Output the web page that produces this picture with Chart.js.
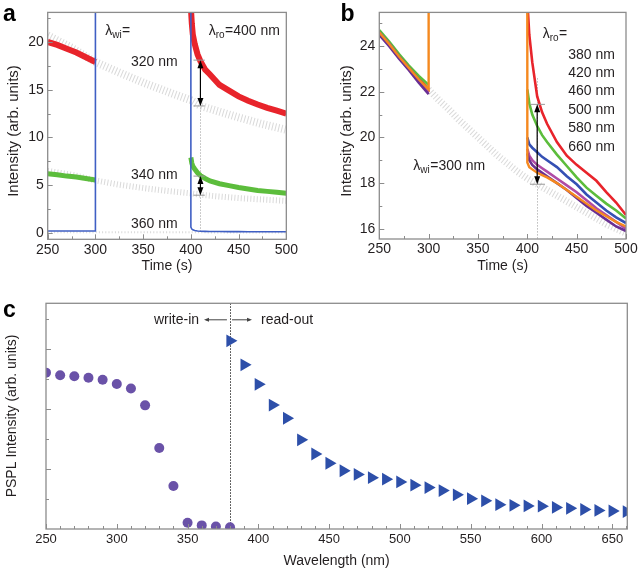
<!DOCTYPE html>
<html><head><meta charset="utf-8">
<script src="https://cdn.jsdelivr.net/npm/chart.js@4.4.1/dist/chart.umd.min.js"></script>
<style>
html,body{margin:0;padding:0;background:#fff;width:640px;height:573px;overflow:hidden}
canvas{position:absolute;display:block}
</style></head><body>
<canvas id="ca" width="300" height="280" style="left:0;top:0"></canvas>
<canvas id="cb" width="320" height="280" style="left:320px;top:0"></canvas>
<canvas id="cc" width="640" height="283" style="left:0;top:290px"></canvas>
<script>
// ---------- Panel a data (λro = 400 nm) ----------
const aPreT  = [250, 260, 270, 280, 290, 300];
const aRedPre   = [20.0, 19.7, 19.3, 18.9, 18.4, 17.9];
const aGreenPre = [6.2, 6.1, 5.95, 5.85, 5.7, 5.55];
const aBluePre  = [0.2, 0.2, 0.2, 0.2, 0.2, 0.2];
const aPostT = [400, 401, 402, 404, 407, 410, 415, 420, 430, 440, 450, 460, 470, 480, 490, 500];
const aRedPost   = [23.6, 21.9, 20.8, 19.8, 18.7, 18.0, 17.1, 16.6, 15.5, 14.9, 14.3, 13.85, 13.45, 13.1, 12.8, 12.5];
const aGreenPost = [7.9, 7.3, 7.0, 6.7, 6.3, 6.0, 5.7, 5.45, 5.15, 4.95, 4.75, 4.6, 4.45, 4.35, 4.25, 4.15];
const aBluePost  = [0.6, 0.4, 0.32, 0.25, 0.2, 0.18, 0.16, 0.15, 0.14, 0.13, 0.13, 0.12, 0.12, 0.12, 0.12, 0.12];
const aRefT = [250, 275, 300, 325, 350, 375, 400, 410, 425, 450, 475, 500];
const aGray320 = [20.7, 19.4, 17.9, 16.8, 15.75, 14.8, 13.9, 13.3, 12.85, 12.1, 11.4, 10.8];
const aGray340 = [6.5, 6.1, 5.5, 5.05, 4.7, 4.4, 4.15, 4.0, 3.85, 3.65, 3.5, 3.35];
const aGray360 = [0.08, 0.08, 0.07, 0.07, 0.06, 0.06, 0.06, 0.06, 0.05, 0.05, 0.05, 0.05];
const aOffScale = 60;   // excitation light, far above the axis
const aWriteLabels = ['320 nm', '340 nm', '360 nm'];

// ---------- Panel b data (λwi = 300 nm) ----------
const bPreT = [250, 260, 270, 280, 290, 300];
const bPostT = [400, 402, 405, 410, 415, 420, 430, 440, 450, 460, 470, 480, 490, 500];
const bRed380Pre    = [24.65, 24.15, 23.6, 23.1, 22.6, 22.1];
const bGreen420Pre  = [24.7, 24.2, 23.65, 23.15, 22.7, 22.3];
const bBlue460Pre   = [24.6, 24.1, 23.55, 23.05, 22.55, 22.0];
const bMag500Pre    = [24.6, 24.1, 23.5, 23.0, 22.5, 22.0];
const bPurp580Pre   = [24.5, 24.0, 23.45, 22.95, 22.4, 21.9];
const bOrange660Pre = [24.6, 24.1, 23.55, 23.05, 22.55, 22.1];
const bRed380Post    = [26.0, 24.5, 23.3, 21.8, 21.1, 20.6, 19.8, 19.2, 18.8, 18.45, 18.1, 17.6, 17.15, 16.6];
const bGreen420Post  = [22.1, 21.5, 21.0, 20.5, 20.1, 19.8, 19.25, 18.75, 18.25, 17.8, 17.45, 17.1, 16.8, 16.45];
const bBlue460Post   = [20.0, 19.7, 19.55, 19.35, 19.15, 19.0, 18.7, 18.3, 17.95, 17.5, 17.15, 16.8, 16.5, 16.25];
const bMag500Post    = [19.5, 19.2, 19.0, 18.8, 18.65, 18.5, 18.2, 17.9, 17.6, 17.25, 16.9, 16.6, 16.3, 16.0];
const bPurp580Post   = [19.3, 19.0, 18.8, 18.6, 18.45, 18.3, 18.0, 17.7, 17.35, 17.0, 16.7, 16.4, 16.1, 15.9];
const bOrange660Post = [18.9, 18.7, 18.6, 18.45, 18.35, 18.25, 18.0, 17.7, 17.4, 17.1, 16.8, 16.55, 16.3, 16.1];
const bRefT = [300, 310, 320, 330, 340, 350, 360, 370, 380, 390, 400, 410, 420, 430, 440, 450, 460, 470, 480, 490, 500];
const bGray = [22.1, 21.65, 21.25, 20.8, 20.4, 20.0, 19.6, 19.2, 18.85, 18.5, 18.2, 17.95, 17.7, 17.45, 17.2, 16.95, 16.7, 16.45, 16.2, 16.0, 15.8];
const bOffScale = 40;
const bReadLabels = ['380 nm', '420 nm', '460 nm', '500 nm', '580 nm', '660 nm'];

// ---------- Panel c data ----------
const cWriteNm = [250, 260, 270, 280, 290, 300, 310, 320, 330, 340, 350, 360, 370, 380];
const cWriteI  = [5.21, 5.12, 5.09, 5.04, 4.97, 4.83, 4.68, 4.12, 2.70, 1.43, 0.21, 0.12, 0.08, 0.06];
const cReadNm  = [380, 390, 400, 410, 420, 430, 440, 450, 460, 470, 480, 490, 500, 510, 520, 530, 540, 550, 560, 570, 580, 590, 600, 610, 620, 630, 640, 650, 660];
const cReadI   = [6.27, 5.47, 4.82, 4.13, 3.69, 2.97, 2.50, 2.19, 1.94, 1.82, 1.71, 1.66, 1.57, 1.46, 1.38, 1.28, 1.14, 1.01, 0.94, 0.81, 0.79, 0.77, 0.76, 0.72, 0.69, 0.65, 0.62, 0.60, 0.58];

// ---------- helpers ----------
const FONT = '"Liberation Sans", Arial, Helvetica, sans-serif';
const TXT = '#231f20';
const FRAME = '#8c8c8c';
const pts = (ts, vs) => ts.map((t, i) => ({x: t, y: vs[i]}));
const GAP = {x: 350, y: null};
function lineDs(data, color, width, extra) {
  return Object.assign({type: 'line', data, borderColor: color, backgroundColor: color,
    borderWidth: width, pointRadius: 0, tension: 0, fill: false, spanGaps: false}, extra || {});
}
const grayStyle = () => ({borderDash: [1, 2.2]});
const GRAY = 'rgba(165,165,165,0.42)';

function range(a, b, s) { const r = []; for (let v = a; v <= b + 1e-9; v += s) r.push(+v.toFixed(6)); return r; }

function drawTicks(chart, t) {
  const {ctx, chartArea: A, scales: {x, y}} = chart;
  ctx.save();
  ctx.strokeStyle = FRAME; ctx.lineWidth = 1;
  const xl = (vals, len) => vals.forEach(v => { const p = Math.round(x.getPixelForValue(v)) + 0.5; if (p < A.left - 1 || p > A.right + 1) return; ctx.beginPath(); ctx.moveTo(p, A.bottom); ctx.lineTo(p, A.bottom - len); ctx.stroke(); });
  const yl = (vals, len) => vals.forEach(v => { const p = Math.round(y.getPixelForValue(v)) + 0.5; if (p < A.top - 1 || p > A.bottom + 1) return; ctx.beginPath(); ctx.moveTo(A.left, p); ctx.lineTo(A.left + len, p); ctx.stroke(); });
  xl(t.xMinor, 3); xl(t.xMajor, 5); yl(t.yMinor, 3); yl(t.yMajor, 5);
  ctx.lineWidth = 1.3;
  ctx.strokeRect(A.left, A.top, A.right - A.left, A.bottom - A.top);
  ctx.restore();
}
function yTitle(ctx, text, x, yc, size) {
  ctx.save(); ctx.translate(x, yc); ctx.rotate(-Math.PI / 2);
  ctx.font = size + 'px ' + FONT; ctx.fillStyle = TXT; ctx.textAlign = 'center'; ctx.textBaseline = 'middle';
  ctx.fillText(text, 0, 0); ctx.restore();
}
function letter(ctx, ch, x, y) {
  ctx.save(); ctx.font = 'bold 23px ' + FONT; ctx.fillStyle = '#000'; ctx.textBaseline = 'alphabetic'; ctx.fillText(ch, x, y); ctx.restore();
}
function txt(ctx, s, x, y, size, align) {
  ctx.save(); ctx.font = size + 'px ' + FONT; ctx.fillStyle = TXT; ctx.textAlign = align || 'left'; ctx.textBaseline = 'middle'; ctx.fillText(s, x, y); ctx.restore();
}
function lambda(ctx, sub, rest, x, y, size) {
  ctx.save(); ctx.fillStyle = TXT; ctx.textBaseline = 'middle'; ctx.textAlign = 'left';
  ctx.font = size + 'px ' + FONT; ctx.fillText('λ', x, y); let w = ctx.measureText('λ').width;
  ctx.font = Math.round(size * 0.72) + 'px ' + FONT; ctx.fillText(sub, x + w, y + 4); w += ctx.measureText(sub).width + 0.5;
  ctx.font = size + 'px ' + FONT; ctx.fillText(rest, x + w, y); ctx.restore();
}
function vArrow(ctx, x, y1, y2, capL, capR) {
  ctx.save();
  ctx.strokeStyle = '#999'; ctx.lineWidth = 1;
  ctx.beginPath(); ctx.moveTo(capL, y1); ctx.lineTo(capR, y1); ctx.moveTo(capL, y2); ctx.lineTo(capR, y2); ctx.stroke();
  ctx.strokeStyle = '#000'; ctx.fillStyle = '#000'; ctx.lineWidth = 1.2;
  ctx.beginPath(); ctx.moveTo(x, y1 + 5); ctx.lineTo(x, y2 - 5); ctx.stroke();
  ctx.beginPath(); ctx.moveTo(x, y1); ctx.lineTo(x - 3, y1 + 8); ctx.lineTo(x + 3, y1 + 8); ctx.closePath(); ctx.fill();
  ctx.beginPath(); ctx.moveTo(x, y2); ctx.lineTo(x - 3, y2 - 8); ctx.lineTo(x + 3, y2 - 8); ctx.closePath(); ctx.fill();
  ctx.restore();
}
function dotted(ctx, x, y1, y2, color) {
  ctx.save(); ctx.strokeStyle = color; ctx.lineWidth = 1; ctx.setLineDash([1.5, 1.5]);
  ctx.beginPath(); ctx.moveTo(Math.round(x) + 0.5, y1); ctx.lineTo(Math.round(x) + 0.5, y2); ctx.stroke(); ctx.restore();
}
function baseScales(o) {
  return {
    x: {type: 'linear', min: o.xmin, max: o.xmax, afterFit: s => { s.height = o.xh; },
      grid: {display: false, drawTicks: false}, border: {display: false},
      ticks: {stepSize: o.xstep, includeBounds: false, autoSkip: false, maxRotation: 0, padding: o.xpad, color: TXT, font: {family: FONT, size: o.tsize}},
      title: {display: true, text: o.xtitle, color: TXT, font: {family: FONT, size: 14}, padding: {top: 0, bottom: o.tpad}}},
    y: {type: 'linear', min: o.ymin, max: o.ymax, afterFit: s => { s.width = o.yw; },
      grid: {display: false, drawTicks: false}, border: {display: false},
      ticks: {display: o.yticks !== false, stepSize: o.ystep, includeBounds: false, autoSkip: false, padding: 4, color: TXT, font: {family: FONT, size: o.tsize}}}
  };
}
const common = {responsive: false, animation: false, events: [],
  plugins: {legend: {display: false}, tooltip: {enabled: false}}};

// ---------- Chart a ----------
new Chart(document.getElementById('ca'), {
  type: 'line',
  data: {datasets: [
    lineDs([...pts(aPreT, aBluePre), {x: 300, y: aOffScale}, {x: 400, y: aOffScale}, ...pts(aPostT, aBluePost)], '#3f5fc4', 1.6),
    lineDs([...pts(aPreT, aRedPre), GAP, ...pts(aPostT, aRedPost)], '#e8242b', 6),
    lineDs([...pts(aPreT, aGreenPre), GAP, ...pts(aPostT, aGreenPost)], '#5cbd3c', 5),
    lineDs(pts(aRefT, aGray360), GRAY, 2, grayStyle()),
    lineDs(pts(aRefT, aGray340), GRAY, 6, grayStyle()),
    lineDs(pts(aRefT, aGray320), GRAY, 8, grayStyle())
  ]},
  options: Object.assign({}, common, {
    layout: {padding: {left: 0, top: 4, right: 7.3, bottom: 0}},
    scales: baseScales({xmin: 250, xmax: 500, xstep: 50, xh: 40.7, xpad: 2, tpad: 5, xtitle: 'Time (s)',
      ymin: -0.67, ymax: 23.1, ystep: 5, yw: 47.7, tsize: 14})
  }),
  plugins: [{id: 'decoA', beforeDatasetsDraw(chart) {
      const {ctx, scales: {x, y}} = chart;
      dotted(ctx, x.getPixelForValue(410), y.getPixelForValue(18.5), y.getPixelForValue(0), '#bbb');
    }, afterDatasetsDraw(chart) {
      const {ctx, scales: {x, y}} = chart;
      drawTicks(chart, {xMajor: range(250, 500, 50), xMinor: range(275, 475, 50), yMajor: range(0, 20, 5), yMinor: range(2.5, 22.5, 5)});
      const X = v => x.getPixelForValue(v), Y = v => y.getPixelForValue(v);
      lambda(ctx, 'wi', '=', X(310.2), Y(21.1), 14);
      lambda(ctx, 'ro', '=400 nm', X(418.7), Y(21.1), 14);
      txt(ctx, aWriteLabels[0], X(337.3), Y(17.85), 14);
      txt(ctx, aWriteLabels[1], X(337.3), Y(6.0), 14);
      txt(ctx, aWriteLabels[2], X(337.3), Y(0.95), 14);
      vArrow(ctx, X(410), Y(18.1), Y(13.3), X(402.7), X(414.6));
      vArrow(ctx, X(410), Y(5.95), Y(3.95), X(402.7), X(414.6));
      yTitle(ctx, 'Intensity (arb. units)', 13.5, 131, 15);
      letter(ctx, 'a', 3, 21);
    }}]
});

// ---------- Chart b ----------
new Chart(document.getElementById('cb'), {
  type: 'line',
  data: {datasets: [
    lineDs([...pts(bPreT, bOrange660Pre), {x: 300, y: bOffScale}, {x: 400, y: bOffScale}, ...pts(bPostT, bOrange660Post)], '#f5891f', 2.4),
    lineDs([...pts(bPreT, bPurp580Pre), GAP, ...pts(bPostT, bPurp580Post)], '#6a2f93', 2.6),
    lineDs([...pts(bPreT, bMag500Pre), GAP, ...pts(bPostT, bMag500Post)], '#b04ba6', 2.6),
    lineDs([...pts(bPreT, bBlue460Pre), GAP, ...pts(bPostT, bBlue460Post)], '#3550b4', 2.6),
    lineDs([...pts(bPreT, bGreen420Pre), GAP, ...pts(bPostT, bGreen420Post)], '#5cbd3c', 2.6),
    lineDs([...pts(bPreT, bRed380Pre), GAP, ...pts(bPostT, bRed380Post)], '#e8242b', 2.6),
    lineDs(pts(bRefT, bGray), GRAY, 7, grayStyle())
  ]},
  options: Object.assign({}, common, {
    layout: {padding: {left: 0, top: 4, right: 14, bottom: 0}},
    scales: baseScales({xmin: 250, xmax: 500, xstep: 50, xh: 41, xpad: 2, tpad: 5, xtitle: 'Time (s)',
      ymin: 15.55, ymax: 25.48, ystep: 2, yw: 59.3, tsize: 14})
  }),
  plugins: [{id: 'decoB', beforeDatasetsDraw(chart) {
      const {ctx, scales: {x, y}} = chart;
      dotted(ctx, x.getPixelForValue(410), y.getPixelForValue(22.6), y.getPixelForValue(15.55), '#bbb');
    }, afterDatasetsDraw(chart) {
      const {ctx, scales: {x, y}} = chart;
      drawTicks(chart, {xMajor: range(250, 500, 50), xMinor: range(275, 475, 50), yMajor: range(16, 24, 2), yMinor: range(17, 25, 2)});
      const X = v => x.getPixelForValue(v), Y = v => y.getPixelForValue(v);
      lambda(ctx, 'ro', '=', X(415.6), Y(24.52), 14);
      const ys = [23.61, 22.83, 22.01, 21.21, 20.41, 19.59];
      bReadLabels.forEach((s, i) => txt(ctx, s, X(441.5), Y(ys[i]), 14));
      lambda(ctx, 'wi', '=300 nm', X(284.5), Y(18.75), 14);
      vArrow(ctx, X(410), Y(21.45), Y(17.95), X(402.7), X(417.9));
      yTitle(ctx, 'Intensity (arb. units)', 26.7, 131, 15);
      letter(ctx, 'b', 20.5, 21);
    }}]
});

// ---------- Chart c ----------
new Chart(document.getElementById('cc'), {
  type: 'scatter',
  data: {datasets: [
    {data: pts(cReadNm, cReadI), pointStyle: 'triangle', rotation: 90, pointRadius: 7.4, pointBackgroundColor: '#2d4fa9', pointBorderColor: '#2d4fa9', pointBorderWidth: 0, showLine: false, clip: 0},
    {data: pts(cWriteNm, cWriteI), pointStyle: 'circle', pointRadius: 5, pointBackgroundColor: '#6a52a8', pointBorderColor: '#6a52a8', pointBorderWidth: 0, showLine: false, clip: 0}
  ]},
  options: Object.assign({}, common, {
    layout: {padding: {left: 0, top: 13.3, right: 12.7, bottom: 0}},
    scales: baseScales({xmin: 250, xmax: 660.6, xstep: 50, xh: 44, xpad: 3, tpad: 3, xtitle: 'Wavelength (nm)',
      ymin: 0, ymax: 7.52, ystep: 1, yw: 46, tsize: 13, yticks: false})
  }),
  plugins: [{id: 'decoC', beforeDatasetsDraw(chart) {
      const {ctx, chartArea: A, scales: {x}} = chart;
      dotted(ctx, x.getPixelForValue(380), A.top, A.bottom, '#333');
    }, afterDatasetsDraw(chart) {
      const {ctx, scales: {x, y}} = chart;
      drawTicks(chart, {xMajor: range(250, 650, 50), xMinor: range(260, 660, 10).filter(v => v % 50 !== 0), yMajor: [2, 4, 6], yMinor: [1, 3, 5, 7]});
      const X = v => x.getPixelForValue(v), Y = v => y.getPixelForValue(v);
      const yy = Y(6.97);
      txt(ctx, 'write-in', X(358.1), yy, 14, 'right');
      txt(ctx, 'read-out', X(401.9), yy, 14, 'left');
      ctx.save(); ctx.strokeStyle = '#444'; ctx.fillStyle = '#444'; ctx.lineWidth = 1;
      ctx.beginPath(); ctx.moveTo(X(377.8), yy); ctx.lineTo(X(363), yy); ctx.moveTo(X(381.4), yy); ctx.lineTo(X(394), yy); ctx.stroke();
      ctx.beginPath(); ctx.moveTo(X(361.6), yy); ctx.lineTo(X(361.6) + 5, yy - 2); ctx.lineTo(X(361.6) + 5, yy + 2); ctx.closePath(); ctx.fill();
      ctx.beginPath(); ctx.moveTo(X(395.5), yy); ctx.lineTo(X(395.5) - 5, yy - 2); ctx.lineTo(X(395.5) - 5, yy + 2); ctx.closePath(); ctx.fill();
      ctx.restore();
      yTitle(ctx, 'PSPL Intensity (arb. units)', 12, 126, 14);
      letter(ctx, 'c', 3, 26.7);
    }}]
});
</script>
</body></html>
